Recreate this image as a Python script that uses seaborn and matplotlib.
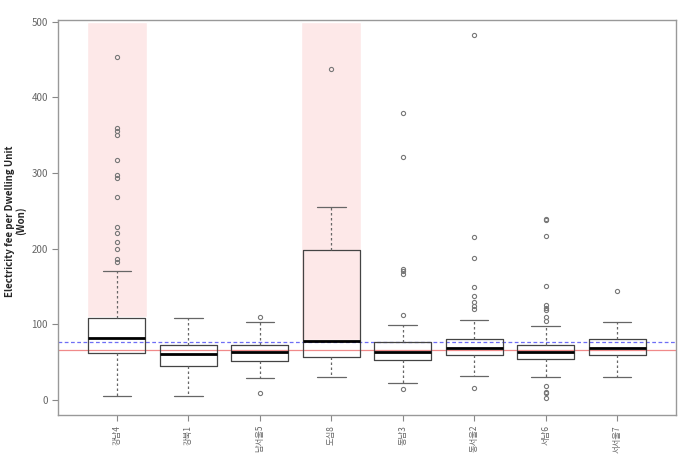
import numpy as np
import pandas as pd
import matplotlib.pyplot as plt
import seaborn as sns

# branch offices (x axis)
regions = ["강남4", "강북1", "남서울5", "도심8", "동남3", "동서울2", "서남6", "서서울7"]

# box summaries (Won per dwelling unit)
whisker_low = [5, 6, 29.5, 31, 23, 32, 30.5, 30.5]
q1 = [62.5, 45, 52.3, 57, 53, 59, 54.7, 60]
median = [81.5, 61.5, 63.5, 78.5, 63.5, 69, 63.5, 69]
q3 = [109, 72.3, 72.5, 199, 76.3, 81, 73.2, 80.7]
whisker_high = [170, 109, 102.7, 255, 99, 106, 98, 102.7]
outliers = [
    [454, 360, 356, 350, 318, 297, 293, 268, 229, 221, 209, 200, 186, 182],
    [],
    [110, 9],
    [437],
    [380, 321, 173, 170, 167, 112.5, 14.5],
    [482, 215, 188, 149, 138, 130, 125, 121, 16],
    [240, 238, 217, 151, 126, 122, 119, 110, 104, 18.5, 11, 9.5, 3],
    [144],
]

# reference lines
overall_mean = 76.3
overall_median = 66.5

# highlighted offices
shaded = ["강남4", "도심8"]
shade_bottom = [110, 79]
shade_top = 500

# long table: quartile values weighted so seaborn reproduces the boxes
K = 60
rows = []
for i, r in enumerate(regions):
    vals = [whisker_low[i], whisker_high[i]] + [q1[i]] * K + [median[i]] * K + [q3[i]] * K + outliers[i]
    for v in vals:
        rows.append((r, v))
df = pd.DataFrame(rows, columns=["region", "fee"])

sns.set_style("white")
plt.rcParams["font.family"] = ["Noto Sans CJK KR", "DejaVu Sans"]

fig = plt.figure(figsize=(6.86, 4.54), dpi=100)
ax = fig.add_axes([0.085, 0.087, 0.9, 0.87])

xs = [regions.index(r) for r in shaded]
ax.bar(xs, [shade_top - b for b in shade_bottom], bottom=shade_bottom,
       width=0.84, color="#fde8e8", zorder=0)

ax.axhline(overall_median, color="#f08a8a", lw=0.9, zorder=1)
ax.axhline(overall_mean, color="#6e6ef5", lw=0.9, ls=(0, (3, 2)), zorder=1)

sns.boxplot(data=df, x="region", y="fee", order=regions, ax=ax,
            fill=False, width=0.8, color="#444444", linewidth=0.9,
            medianprops=dict(color="black", linewidth=2),
            whiskerprops=dict(color="#666666", linestyle=(0, (2, 2))),
            capprops=dict(color="#666666"),
            flierprops=dict(marker="o", markersize=3, markerfacecolor="none",
                            markeredgecolor="#777777", markeredgewidth=0.8))

ax.set_xlim(-0.82, 7.82)
ax.set_ylim(-19, 503)
ax.set_yticks([0, 100, 200, 300, 400, 500])
ax.tick_params(axis="both", colors="#888888", labelcolor="#666666",
               length=4, width=0.8, labelsize=7, direction="out",
               bottom=True, left=True)
ax.tick_params(axis="x", labelsize=6, labelrotation=90)
for s in ax.spines.values():
    s.set_color("#999999")
    s.set_linewidth(1)

ax.set_xlabel("")
ax.set_ylabel("Electricity fee per Dwelling Unit\n(Won)", fontsize=7,
              fontweight="bold", linespacing=1.0)
ax.yaxis.set_label_coords(-0.052, 0.49)

fig.savefig("out.png", dpi=100)
